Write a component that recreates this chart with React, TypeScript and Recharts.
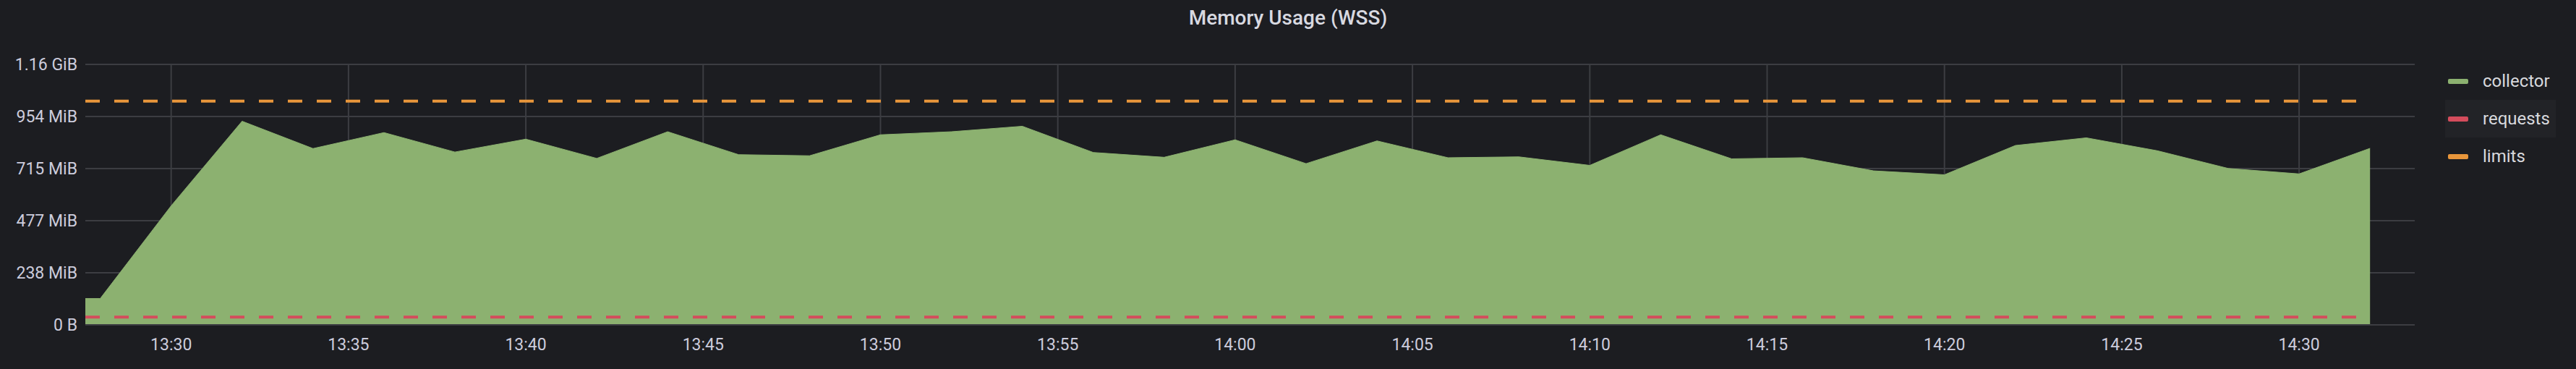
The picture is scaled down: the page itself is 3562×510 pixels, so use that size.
import React from 'react';
import {
  ComposedChart,
  Area,
  Line,
  XAxis,
  YAxis,
  CartesianGrid,
  Legend
} from 'recharts';

// minutes after 13:00
const times = [27.58, 28, 30, 32, 34, 36, 38, 40, 42, 44, 46, 48, 50, 52, 54, 56, 58, 60, 62, 64, 66, 68, 70, 72, 74, 76, 78, 80, 82, 84, 86, 88, 90, 92];
// MiB
const collector = [120.6, 120.6, 545, 932, 807, 880, 791, 850, 762, 884, 779, 774, 870, 884, 909, 789, 767, 847, 738, 842, 765, 769, 730, 870, 760, 765, 705, 687, 821, 856, 797, 716, 691, 808];

const limitTimes = [27.58, 92];
const requests = [36, 36];
const limits = [1024, 1024];

const xTicks = [30, 35, 40, 45, 50, 55, 60, 65, 70, 75, 80, 85, 90];
const xLabels = ['13:30', '13:35', '13:40', '13:45', '13:50', '13:55', '14:00', '14:05', '14:10', '14:15', '14:20', '14:25', '14:30'];
const yTicks = [0, 238.42, 476.84, 715.26, 953.67, 1192.09];
const yLabels = ['0 B', '238 MiB', '477 MiB', '715 MiB', '954 MiB', '1.16 GiB'];

const seriesNames = ['collector', 'requests', 'limits'];
const seriesColors = ['#8cb170', '#d44c5c', '#e8963b'];

const bg = '#1c1d21';
const gridColor = '#3c3d42';
const textColor = '#ccccdc';

const data = times.map((t, i) => ({ t, collector: collector[i] }));
const requestsData = limitTimes.map((t, i) => ({ t, requests: requests[i] }));
const limitsData = limitTimes.map((t, i) => ({ t, limits: limits[i] }));

const LegendBox = () => (
  <div style={{ fontFamily: 'Roboto', fontSize: 24, color: '#d8d9dd' }}>
    {seriesNames.map((name, i) => (
      <div
        key={name}
        style={{
          display: 'flex',
          alignItems: 'center',
          height: 52,
          paddingLeft: 4,
          width: 149,
          background: name === 'requests' ? '#222327' : 'transparent'
        }}
      >
        <div style={{ width: 28, height: 7, borderRadius: 2, background: seriesColors[i], marginRight: 20 }} />
        <span>{name}</span>
      </div>
    ))}
  </div>
);

const App = () => {
  return (
    <div style={{ position: 'fixed', left: 0, top: 0, width: 3562, height: 510, background: bg, fontFamily: 'Roboto' }}>
      <div
        style={{
          position: 'absolute',
          top: 0,
          left: 0,
          width: 3562,
          textAlign: 'center',
          lineHeight: '50px',
          fontSize: 28,
          fontWeight: 500,
          color: '#d8d9e0'
        }}
      >
        Memory Usage (WSS)
      </div>
      <ComposedChart width={3562} height={510} margin={{ top: 89, right: 223, bottom: 0, left: 0 }}>
        <CartesianGrid stroke={gridColor} strokeWidth={2} verticalValues={xTicks} horizontalValues={yTicks} />
        <XAxis
          dataKey="t"
          type="number"
          domain={[27.58, 93.26]}
          ticks={xTicks}
          allowDataOverflow
          height={61}
          tickSize={0}
          tickMargin={19}
          tickLine={false}
          axisLine={{ stroke: gridColor, strokeWidth: 2 }}
          tick={{ fill: textColor, fontSize: 23, fontFamily: 'Roboto' }}
          tickFormatter={(v: number) => xLabels[xTicks.indexOf(v)]}
        />
        <YAxis
          type="number"
          domain={[0, 1192.09]}
          ticks={yTicks}
          width={118}
          tickSize={0}
          tickMargin={11}
          tickLine={false}
          axisLine={false}
          tick={{ fill: textColor, fontSize: 23, fontFamily: 'Roboto' }}
          tickFormatter={(v: number) => yLabels[yTicks.indexOf(v)]}
        />
        <Area
          data={data}
          dataKey="collector"
          type="linear"
          stroke={seriesColors[0]}
          strokeWidth={1}
          fill={seriesColors[0]}
          fillOpacity={1}
          isAnimationActive={false}
        />
        <Line
          data={requestsData}
          dataKey="requests"
          type="linear"
          stroke={seriesColors[1]}
          strokeWidth={4}
          strokeDasharray="20 20"
          dot={false}
          isAnimationActive={false}
        />
        <Line
          data={limitsData}
          dataKey="limits"
          type="linear"
          stroke={seriesColors[2]}
          strokeWidth={4}
          strokeDasharray="20 20"
          dot={false}
          isAnimationActive={false}
        />
        <Legend
          content={<LegendBox />}
          layout="horizontal"
          verticalAlign="middle"
          wrapperStyle={{ left: 3381, top: 86, width: 153, height: 156 }}
        />
      </ComposedChart>
    </div>
  );
};

export default App;
